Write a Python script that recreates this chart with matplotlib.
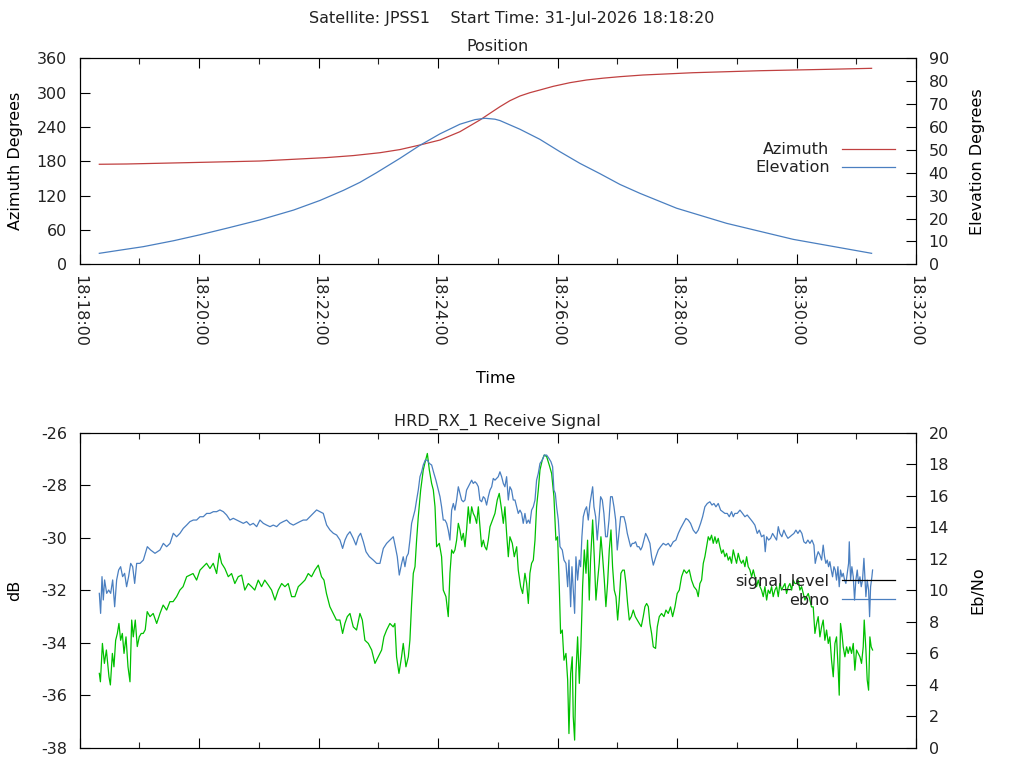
import matplotlib
matplotlib.use('Agg')
import matplotlib.pyplot as plt
import matplotlib.dates as mdates
from matplotlib.lines import Line2D
import numpy as np

FS = 11.5
plt.rcParams['font.family'] = ['DejaVu Sans']
plt.rcParams['font.size'] = FS
plt.rcParams['axes.unicode_minus'] = False
plt.rcParams['text.color'] = '#222222'
plt.rcParams['xtick.color'] = '#222222'
plt.rcParams['ytick.color'] = '#222222'

START = np.datetime64('2026-07-31T18:18:00', 'ms')
END_MIN = 14

suptitle_text = "Satellite: JPSS1    Start Time: 31-Jul-2026 18:18:20"
top_title = "Position"
bottom_title = "HRD_RX_1 Receive Signal"

# (seconds after 18:18:00, degrees)
azimuth = [(19.9, 174.8), (47.4, 175.3), (107.6, 177.6), (181.2, 180.5), (248.2, 186.5),
           (275.0, 190.0), (301.7, 195.0), (321.8, 200.5), (341.9, 208.5), (362.0, 217.2),
           (382.0, 231.7), (402.1, 252.2), (412.2, 263.9), (422.2, 275.4), (432.2, 285.9),
           (442.3, 294.1), (452.3, 299.9), (462.3, 304.6), (475.7, 311.0), (492.5, 317.4),
           (509.2, 322.1), (525.9, 325.3), (542.7, 327.9), (565.8, 330.8), (616.0, 334.8),
           (683.2, 338.3), (750.2, 340.7), (795.4, 342.5)]

elevation = [(19.9, 4.8), (41.0, 6.2), (64.0, 7.7), (94.5, 10.3), (121.0, 12.9), (148.3, 15.8),
             (181.2, 19.4), (215.0, 23.7), (241.5, 27.9), (265.0, 32.3), (281.6, 35.8),
             (298.2, 40.0), (321.8, 46.3), (341.9, 52.0), (362.0, 57.0), (382.0, 61.2),
             (397.1, 63.2), (407.1, 63.8), (417.2, 63.4), (422.2, 62.8), (442.3, 59.0),
             (462.3, 54.6), (482.4, 49.2), (502.5, 44.1), (522.6, 39.6), (542.7, 34.9),
             (562.8, 31.0), (599.6, 24.5), (649.8, 17.9), (716.7, 10.9), (795.4, 4.8)]

# (seconds after 18:18:00, dB)
signal_level = [
    (19.9, -35.16), (21, -35.48), (23, -34.02), (25, -34.78), (27, -34.27), (29.6, -35.29),
    (31, -35.6), (33, -34.4), (34.6, -34.91), (36.3, -33.9), (38, -33.64), (39.6, -33.26),
    (41.3, -33.9), (43, -33.64), (44.7, -34.4), (46.7, -33.77), (48.7, -34.91), (50.7, -35.48),
    (52.4, -33.13), (54, -33.77), (56, -33.13), (58, -34.14), (60, -33.77), (62, -33.64),
    (64, -33.64), (66, -33.5), (68, -32.81), (70.8, -33.0), (74, -32.88), (77.5, -33.26),
    (80.8, -32.88), (84, -32.56), (87.5, -32.75), (90.8, -32.43), (94, -32.43), (97.5, -32.24),
    (100.8, -31.99), (104, -31.86), (107.6, -31.48), (110.9, -31.42), (114, -31.36),
    (117.6, -31.61), (121, -31.23), (124.3, -31.1), (127.6, -30.97), (131, -31.17),
    (134.3, -30.97), (137.7, -31.36), (140.4, -30.59), (142.7, -30.97), (146, -31.17),
    (149.4, -31.48), (152.7, -31.36), (156, -31.74), (159.4, -31.48), (162.8, -31.42),
    (166, -31.99), (169.5, -31.74), (172.8, -31.86), (176, -31.99), (179.5, -31.61),
    (182.8, -31.86), (186, -31.61), (189.6, -31.8), (192.9, -31.99), (196.3, -32.37),
    (199.6, -31.99), (203, -31.74), (206.3, -31.86), (209.6, -31.74), (213, -32.24),
    (216.3, -32.24), (219.7, -31.86), (223, -31.74), (226.4, -31.61), (229.7, -31.36),
    (233, -31.48), (236.4, -31.23), (239.8, -31.04), (243, -31.48), (245.5, -31.61),
    (248, -32.12), (251.4, -32.62), (254.8, -32.88), (258, -33.13), (261.5, -33.13),
    (264.2, -33.64), (266.5, -33.26), (268.9, -33.0), (271.6, -32.88), (274.9, -33.39),
    (278.2, -33.51), (281.6, -32.88), (284, -33.13), (286.6, -33.9), (290, -34.02),
    (293.4, -34.27), (296.7, -34.78), (300, -34.53), (303.4, -34.27), (305.7, -33.77),
    (308.4, -33.51), (311.7, -33.26), (315, -33.39), (316.7, -33.26), (318.4, -34.53),
    (320.8, -35.16), (323.4, -34.53),
    (325.1, -34.02), (327.8, -34.91), (330.2, -34.53), (331.8, -33.89), (333.5, -32.5),
    (335.2, -31.35), (336.9, -31.1), (338.5, -30.09), (340.2, -29.2), (342.6, -28.18),
    (345.2, -27.42), (347.2, -27.1), (349.3, -26.79), (351.3, -27.42), (353.6, -27.93),
    (355.3, -28.18), (357, -28.82), (358.6, -30.34), (361.3, -30.21), (363.6, -30.72),
    (365.3, -31.99), (368, -32.24), (370.3, -33.0), (372, -31.35), (373.7, -30.46),
    (375.4, -30.59), (377, -30.46), (378.7, -30.09), (380.4, -29.45), (382, -29.7),
    (383.7, -30.09), (385.4, -29.83), (387.1, -30.34), (388.7, -29.7), (390.4, -28.82),
    (392.1, -29.45), (393.8, -28.82), (395.4, -29.07), (397.1, -29.2), (398.8, -29.45),
    (400.5, -28.82), (402.1, -29.58), (403.8, -30.34), (405.5, -30.09), (407.1, -30.34),
    (408.8, -30.46), (410.5, -30.09), (412.2, -29.58), (414.8, -29.32), (417.2, -29.07),
    (419.5, -28.56), (421.5, -28.31), (423.9, -28.94), (425.6, -29.45), (427.2, -28.82),
    (428.9, -29.83), (430.6, -30.72), (432.2, -29.96), (434.6, -30.21), (436.6, -30.72),
    (439, -30.34), (440.6, -31.23), (443, -31.86), (445, -32.12), (447.3, -31.35),
    (449, -31.73), (450.7, -32.5), (452.3, -31.35), (454, -30.97), (455.7, -30.85),
    (457.4, -30.09), (459, -28.82), (460.7, -28.18), (462.4, -27.42), (464.7, -27.04),
    (466.7, -26.85), (469.1, -26.91), (471.7, -27.23), (474.1, -27.55), (476.4, -28.43),
    (478.4, -30.09), (480.1, -29.96), (481.8, -31.86), (483.1, -33.64), (484.8, -33.51),
    (486.5, -34.66), (488.5, -34.4), (490.2, -35.41), (491.5, -37.45), (493.2, -35.16),
    (494.8, -34.53), (495.8, -36.81), (497.2, -37.7), (498.5, -35.16), (500.2, -33.77),
    (501.9, -35.54), (503.5, -34.15), (505.2, -31.86), (506.9, -30.46), (508.6, -31.35),
    (510.2, -30.09), (511.9, -32.37), (513.2, -30.85), (515.3, -29.32), (516.9, -30.72),
    (518.6, -32.37), (520.3, -31.61), (521.9, -30.97), (523.6, -29.96), (525.3, -30.72),
    (527, -31.61), (528.6, -32.62), (530.3, -31.73), (532, -30.46), (533.7, -29.7),
    (535.3, -31.1), (537, -31.99), (538.7, -32.24), (540.4, -33.13), (542, -32.37),
    (543.7, -31.35), (545.4, -31.23), (547.1, -31.23), (548.7, -31.73), (550.4, -32.5),
    (552.1, -33.13), (554.1, -33.0), (556.1, -32.75), (558.1, -33.0), (560.1, -33.13),
    (562.1, -33.26), (564.1, -33.38), (566.1, -33.0), (567.8, -32.62), (569.5, -32.5),
    (571.2, -32.62), (572.8, -33.26),
    (574.5, -33.64), (576.2, -34.15), (578.5, -34.21), (580.2, -33.39), (582.2, -33.0),
    (584.5, -32.88), (586.9, -33.0), (588.9, -32.75), (591.2, -32.88), (593.5, -32.63),
    (595.6, -33.0), (597.9, -32.63), (600.2, -32.12), (602.3, -31.99), (604.6, -31.48),
    (607, -31.22), (609.6, -31.35), (612.3, -31.22), (614.6, -31.61), (617, -31.86),
    (619.7, -31.99), (621.3, -32.24), (623, -31.74), (624.7, -31.61), (626.4, -30.97),
    (628, -30.72), (629.7, -30.34), (631.4, -29.96), (633, -30.09), (634.7, -29.9),
    (636.4, -30.21), (638.1, -29.96), (639.7, -30.21), (641.4, -30.02), (643.1, -30.34),
    (644.8, -30.59), (646.4, -30.46), (648.1, -30.72), (649.8, -30.59), (651.5, -30.85),
    (653.1, -30.72), (654.8, -30.97), (656.5, -30.46), (658.1, -30.72), (659.8, -30.97),
    (661.5, -30.59), (663.2, -30.85), (664.8, -30.97), (666.5, -30.85), (668.2, -31.1),
    (669.9, -30.72), (671.5, -31.1), (673.2, -31.22), (674.9, -31.48), (676.6, -31.22),
    (678.2, -31.48), (679.9, -31.86), (681.6, -31.61), (683.3, -31.86), (684.9, -31.99),
    (686.6, -32.24), (688.3, -31.86), (690, -32.37), (691.6, -31.99), (693.3, -32.12),
    (695, -31.86), (696.6, -32.24), (698.3, -31.99), (700, -31.86), (701.7, -32.24),
    (703.3, -31.74), (705, -31.99), (706.7, -31.86), (708.4, -31.74), (710, -32.12),
    (711.7, -31.86), (713.4, -31.74), (715.1, -31.99), (716.7, -31.61), (718.4, -31.74),
    (720.1, -31.74), (721.7, -31.61), (723.4, -31.99), (725.1, -31.86), (726.8, -32.12),
    (728.4, -32.37), (730.1, -32.24), (731.8, -32.12), (733.5, -32.37), (735.1, -32.63),
    (736.8, -32.63), (738.5, -33.64), (740.2, -33.26), (741.8, -33.0), (743.5, -33.77),
    (745.2, -33.39), (746.8, -33.13), (748.5, -33.9), (750.2, -33.51), (751.9, -34.02),
    (753.5, -33.77), (755.2, -34.66), (756.9, -35.29), (758.6, -34.02), (760.2, -33.77),
    (761.9, -35.04), (762.9, -35.99), (764.2, -33.26), (765.6, -33.64), (766.9, -34.15),
    (768.6, -34.53), (770.3, -34.15), (771.9, -34.4), (773.6, -34.15), (775.3, -34.4),
    (777, -34.02), (778.6, -35.04), (780.3, -34.27), (782, -34.4), (783.7, -34.53),
    (785.3, -34.78), (787, -34.15), (788, -33.13), (789.7, -34.27), (791, -35.41),
    (792.4, -35.8), (793.7, -33.77), (795, -34.15), (796.4, -34.27)]

# (seconds after 18:18:00, Eb/No)
ebno = [
    (19.9, 9.81), (21.2, 8.54), (22.6, 10.87), (23.9, 9.39), (25.2, 10.66), (27.3, 9.81),
    (29.3, 10.02), (31.3, 9.81), (33.3, 10.66), (35.3, 8.96), (37.3, 10.66), (39.3, 11.29),
    (41.3, 11.5), (43.3, 10.87), (45.3, 11.08), (47.3, 10.23), (49.3, 10.87), (51.4, 11.71),
    (53.4, 11.5), (55.4, 10.44), (57.4, 11.71), (60.7, 11.71), (64.1, 11.92), (68.1, 12.77),
    (71.4, 12.56), (75.8, 12.35), (80.8, 12.56), (84.2, 12.98), (87.5, 12.77), (90.9, 12.98),
    (94.2, 13.62), (97.5, 13.4), (100.9, 13.62), (104.2, 13.93), (107.6, 14.14),
    (110.9, 14.36), (114.3, 14.46), (117.6, 14.46), (121, 14.67), (124.3, 14.67),
    (127.7, 14.88), (131, 14.88), (134.4, 14.99), (137.7, 14.99), (141, 15.1), (144.4, 14.99),
    (147.7, 14.78), (151.1, 14.46), (154.4, 14.57), (157.8, 14.46), (161.1, 14.36),
    (164.5, 14.25), (167.8, 14.36), (171.2, 14.14), (174.5, 14.25), (177.9, 14.04),
    (181.2, 14.46), (184.6, 14.25), (187.9, 14.14), (191.3, 14.04), (194.6, 14.14),
    (198, 14.04), (201.3, 14.25), (204.6, 14.36), (208, 14.46), (211.3, 14.25),
    (214.7, 14.14), (218, 14.25), (221.4, 14.36), (224.7, 14.46), (228.1, 14.46),
    (231.4, 14.67), (234.8, 14.88), (238.1, 15.1), (241.5, 14.99), (244.8, 14.88),
    (248.2, 14.14), (251.5, 13.83), (254.9, 13.62), (258.2, 13.51), (261.6, 13.19),
    (264.2, 12.66), (266.6, 13.19), (268.9, 13.51), (271.6, 13.72), (274.9, 13.3),
    (277.6, 12.88), (280, 13.4), (282.3, 13.62), (285, 13.09), (287.7, 12.45), (291, 12.14),
    (295, 11.92), (298.4, 11.71), (301.7, 11.71), (305.1, 12.66), (308.4, 12.98),
    (311.8, 13.19), (315.1, 13.4), (316.8, 12.88), (319.1, 12.14), (321.1, 10.97),
    (323.5, 11.71), (325.1, 12.13), (326.8, 11.5), (328.5, 12.13), (330.2, 12.34),
    (331.8, 13.19), (333.5, 14.25), (335.2, 14.67), (336.9, 15.09), (338.5, 15.73),
    (340.2, 16.36), (341.9, 17.21), (343.6, 17.52), (345.2, 17.95), (347.2, 18.26),
    (349.3, 18.26), (351.3, 18.05), (353.6, 17.95), (355.9, 17.42), (357.9, 16.99),
    (360.3, 16.36), (362, 15.94), (363.6, 15.3), (365.3, 14.46), (367, 14.46), (368.7, 14.25),
    (370.3, 13.82), (372, 13.19), (373.7, 15.09), (375.4, 15.51), (377, 15.09), (378.7, 15.73),
    (380.4, 16.57), (382, 16.15), (383.7, 15.73), (385.4, 15.62), (387.1, 15.73),
    (388.7, 16.36), (390.4, 16.57), (392.1, 16.78), (393.8, 16.99), (395.4, 16.78),
    (397.1, 16.89), (398.8, 16.78), (400.5, 16.57), (402.1, 15.73), (403.8, 15.62),
    (405.5, 15.94), (407.1, 15.83), (408.8, 15.41), (410.5, 15.94), (412.2, 16.36),
    (413.9, 16.57), (415.5, 17.1), (417.2, 16.99), (418.9, 17.1), (420.5, 17.21),
    (422.2, 17.52), (423.9, 17.21), (425.6, 16.78), (427.2, 16.57), (428.9, 17.21),
    (430.6, 15.73), (432.2, 16.57), (433.9, 16.36), (435.6, 15.73), (437.3, 15.73),
    (439, 15.3), (440.6, 14.88), (442.3, 15.09), (444, 14.88), (445.6, 14.25), (447.3, 14.88),
    (449, 14.25), (450.7, 14.46), (452.3, 14.25), (454, 15.09), (455.7, 15.3), (457.4, 15.73),
    (459, 16.99), (460.7, 17.42), (462.4, 18.05), (464.7, 18.26), (466.7, 18.58),
    (469.1, 18.58), (471.4, 18.37), (473.4, 18.16), (475.1, 17.84), (476.4, 16.36),
    (477.8, 16.15), (479.1, 15.3), (480.8, 14.46), (482.5, 12.77), (484.8, 12.56),
    (486.5, 11.92), (488.5, 11.71), (490.2, 10.23), (491.5, 11.92), (493.2, 8.96),
    (494.5, 11.5), (495.8, 10.02), (497.2, 8.54), (498.5, 12.13), (500.2, 10.65),
    (501.9, 11.92), (503.2, 11.5), (504.5, 13.4), (505.9, 14.67), (507.6, 15.09),
    (509.2, 15.3), (510.9, 14.46), (512.6, 15.51), (514.2, 16.15), (515.3, 16.57),
    (516.6, 15.3), (518.3, 14.67), (519.9, 13.19), (521.6, 14.46), (523.3, 15.94),
    (525, 15.73), (526.6, 14.88), (528.3, 13.4), (530, 13.4), (531.7, 14.46), (533.3, 15.94),
    (535, 15.94), (536.7, 15.3), (538.4, 14.46), (540, 12.56), (541.7, 13.61), (543.4, 14.67),
    (545.1, 14.67), (546.7, 14.67), (548.4, 14.25), (550.1, 13.61), (551.7, 13.19),
    (553.4, 12.77), (555.1, 12.98), (556.8, 12.98), (558.4, 13.08), (560.1, 12.77),
    (561.8, 12.77), (563.5, 12.56), (565.1, 12.77), (566.8, 13.19), (568.5, 13.61),
    (570.2, 13.4),
    (572.8, 12.98), (574.5, 12.13), (576.2, 11.6), (578.8, 12.13), (581.2, 12.56),
    (583.5, 12.77), (586.2, 12.98), (588.9, 12.87), (591.2, 12.98), (593.5, 12.77),
    (596.2, 13.08), (598.9, 13.19), (601.3, 13.61), (603.6, 13.93), (606.3, 14.25),
    (609, 14.56), (611.3, 14.46), (613.6, 14.25), (616.3, 13.82), (619, 13.61), (621.3, 13.82),
    (623.7, 14.25), (625.7, 14.67), (628, 15.3), (630.4, 15.51), (633, 15.62), (635.1, 15.41),
    (637.1, 15.51), (639.1, 15.3), (641.4, 15.51), (643.8, 15.09), (645.8, 14.99),
    (648.1, 14.88), (650.5, 14.88), (652.5, 14.67), (654.8, 14.99), (656.5, 14.67),
    (658.1, 14.88), (660.5, 14.88), (663.2, 15.09), (665.8, 14.88), (668.2, 14.67),
    (670.5, 14.78), (673.2, 14.56), (675.9, 14.35), (678.2, 14.14), (680.6, 13.61),
    (682.6, 13.82), (684.9, 13.4), (687.3, 13.51), (688.6, 12.45), (690, 13.4), (692, 13.19),
    (694, 13.3), (696, 13.61), (698, 13.4), (700, 13.19), (701.7, 14.04), (703.3, 13.61),
    (705.3, 13.4), (707.3, 13.82), (709.4, 13.51), (711.4, 13.3), (713.4, 13.4),
    (715.4, 13.51), (717.4, 13.61), (719.4, 13.82), (721.4, 13.61), (723.4, 13.82),
    (725.4, 13.61), (727.4, 13.08), (729.4, 12.98), (731.4, 13.19), (733.5, 12.98),
    (735.5, 13.19), (737.5, 12.87), (738.8, 11.71), (740.2, 12.13), (741.8, 12.45),
    (743.5, 12.24), (745.2, 11.92), (746.8, 12.87), (748.2, 12.13), (749.5, 11.71),
    (750.9, 11.92), (752.2, 11.5), (753.5, 11.82), (754.9, 11.29), (756.2, 10.86),
    (757.6, 11.5), (758.9, 11.29), (760.2, 10.65), (761.6, 11.5), (762.9, 10.23),
    (764.2, 11.29), (765.6, 10.86), (766.9, 11.08), (768.3, 10.65), (769.6, 10.44),
    (771, 11.08), (772.3, 11.71), (773, 13.08), (774.3, 10.65), (775.6, 11.5), (777, 10.86),
    (778.3, 9.38), (779.6, 10.65), (781, 11.29), (782.3, 10.44), (783.7, 10.86),
    (785, 10.23), (786.3, 10.65), (787.7, 12.03), (788.7, 10.86), (789.7, 9.6),
    (791, 10.65), (792.4, 10.02), (793.4, 8.33), (794.4, 10.23), (795.7, 10.86),
    (796.4, 11.29)]

AZ_COLOR = '#c04040'
EL_COLOR = '#4a7fc0'
SIG_COLOR = '#00c000'
LW = 0.9


def unpack(series):
    secs = np.array([p[0] for p in series], dtype=float)
    vals = np.array([p[1] for p in series], dtype=float)
    times = START + np.round(secs * 1000).astype('timedelta64[ms]')
    return times, vals


def style_axes(ax, twin):
    for a in (ax, twin):
        for s in a.spines.values():
            s.set_linewidth(0.8)
            s.set_color('black')
    ax.set_xlim(START, START + np.timedelta64(END_MIN * 60, 's'))
    ax.xaxis.set_major_locator(mdates.MinuteLocator(byminute=range(0, 60, 2)))
    ax.xaxis.set_minor_locator(mdates.MinuteLocator())
    ax.xaxis.set_major_formatter(mdates.DateFormatter('%H:%M:%S'))
    ax.tick_params(axis='x', which='major', direction='in', length=7, width=0.8,
                   top=True, bottom=True, pad=8, colors='black', labelcolor='#222222')
    ax.tick_params(axis='x', which='minor', direction='in', length=4, width=0.8,
                   top=True, bottom=True)
    ax.tick_params(axis='y', direction='in', length=7, width=0.8, left=True, right=False,
                   pad=9, colors='black', labelcolor='#222222')
    twin.tick_params(axis='y', direction='in', length=7, width=0.8, right=True, left=False,
                     pad=9, colors='black', labelcolor='#222222')


def right_legend(ax, handles, labels, top):
    leg = ax.legend(handles, labels, loc='upper right', bbox_to_anchor=(0.975, top),
                    frameon=False, markerfirst=False, borderpad=0, borderaxespad=0,
                    handlelength=3.3, handletextpad=0.8, labelspacing=0.18, fontsize=FS)
    try:
        leg._legend_handle_box.get_children()[0].align = 'right'
    except Exception:
        pass
    return leg


fig = plt.figure(figsize=(10.24, 7.68), dpi=100)
fig.suptitle(suptitle_text, y=1 - 23 / 768, va='baseline', fontsize=FS)

# ---- top: Position ----
ax1 = fig.add_axes([79.5 / 1024, 1 - 264.3 / 768, 836.5 / 1024, 206 / 768])
ax1b = ax1.twinx()
az_t, az_v = unpack(azimuth)
el_t, el_v = unpack(elevation)
la, = ax1.plot(az_t, az_v, color=AZ_COLOR, lw=LW)
le, = ax1b.plot(el_t, el_v, color=EL_COLOR, lw=LW)
ax1.set_ylim(0, 360)
ax1.set_yticks(range(0, 361, 60))
ax1b.set_ylim(0, 90)
ax1b.set_yticks(range(0, 91, 10))
style_axes(ax1, ax1b)
plt.setp(ax1.get_xticklabels(), rotation=270, ha='center', va='top')
ax1.set_title(top_title, pad=5, fontsize=FS)
ax1.set_ylabel('Azimuth Degrees')
ax1.yaxis.set_label_coords(-0.068, 0.5)
ax1b.set_ylabel('Elevation Degrees')
ax1b.yaxis.set_label_coords(1.065, 0.5)
ax1.set_xlabel('Time')
ax1.xaxis.set_label_coords(0.497, -0.52)
right_legend(ax1b, [la, le], ['Azimuth', 'Elevation'], 0.592)

# ---- bottom: Receive signal ----
ax2 = fig.add_axes([79.5 / 1024, 1 - 748 / 768, 836.5 / 1024, 315.3 / 768])
ax2b = ax2.twinx()
sg_t, sg_v = unpack(signal_level)
eb_t, eb_v = unpack(ebno)
ax2.plot(sg_t, sg_v, color=SIG_COLOR, lw=LW)
lb, = ax2b.plot(eb_t, eb_v, color=EL_COLOR, lw=LW)
ax2.set_ylim(-38, -26)
ax2.set_yticks(range(-38, -25, 2))
ax2b.set_ylim(0, 20)
ax2b.set_yticks(range(0, 21, 2))
style_axes(ax2, ax2b)
ax2.tick_params(axis='x', labelbottom=False)
ax2.set_title(bottom_title, pad=5, fontsize=FS)
ax2.set_ylabel('dB')
ax2.yaxis.set_label_coords(-0.068, 0.5)
ax2b.set_ylabel('Eb/No')
ax2b.yaxis.set_label_coords(1.065, 0.5)
sig_handle = Line2D([], [], color='black', lw=LW)
right_legend(ax2b, [sig_handle, lb], ['signal_level', 'ebno'], 0.552)

fig.savefig('out.png', dpi=100)
